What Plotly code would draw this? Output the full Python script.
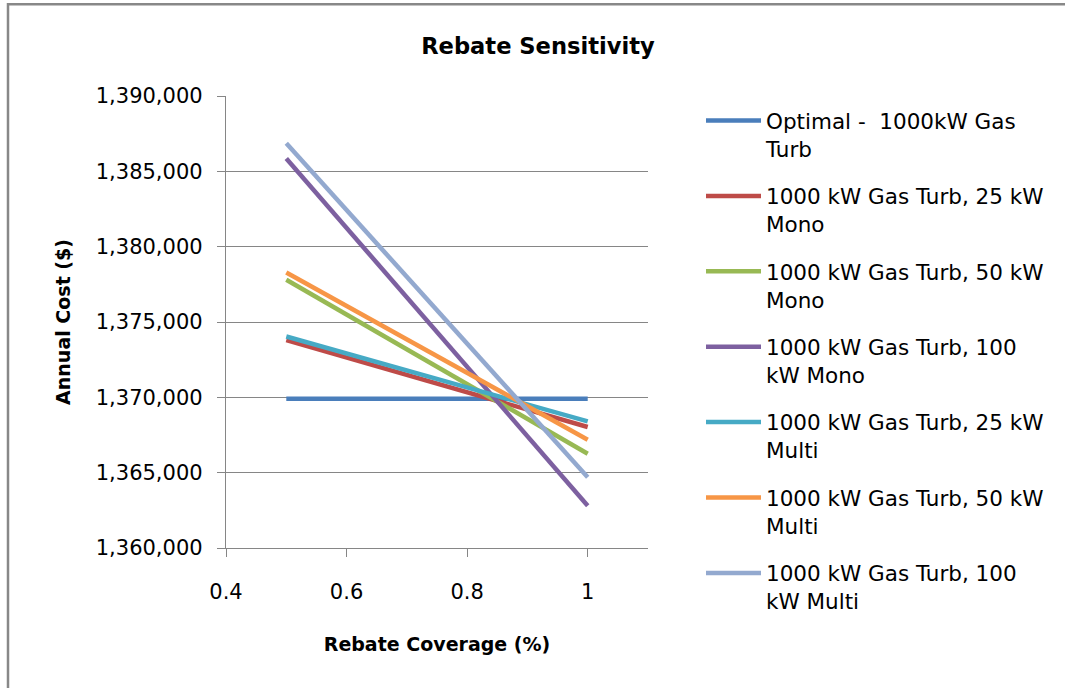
import plotly.graph_objects as go

# ---- data ----
coverage = [0.5, 1.0]
series_names = [
    "Optimal -  1000kW Gas<br>Turb",
    "1000 kW Gas Turb, 25 kW<br>Mono",
    "1000 kW Gas Turb, 50 kW<br>Mono",
    "1000 kW Gas Turb, 100<br>kW Mono",
    "1000 kW Gas Turb, 25 kW<br>Multi",
    "1000 kW Gas Turb, 50 kW<br>Multi",
    "1000 kW Gas Turb, 100<br>kW Multi",
]
optimal_gas_turb = [1369900, 1369900]
gas_turb_25_mono = [1373800, 1368030]
gas_turb_50_mono = [1377800, 1366260]
gas_turb_100_mono = [1385850, 1362810]
gas_turb_25_multi = [1374040, 1368400]
gas_turb_50_multi = [1378290, 1367190]
gas_turb_100_multi = [1386870, 1364690]
series_values = [optimal_gas_turb, gas_turb_25_mono, gas_turb_50_mono,
                 gas_turb_100_mono, gas_turb_25_multi, gas_turb_50_multi,
                 gas_turb_100_multi]
colors = ["#4A7EBB", "#BE4B48", "#98B954", "#7D60A0", "#46AAC5", "#F79646", "#93A9CF"]

FONT = "DejaVu Sans"
W, H = 1065, 688
L, R, T, B = 226, 648, 96, 548

fig = go.Figure()
for i, (name, vals) in enumerate(zip(series_names, series_values)):
    fig.add_trace(go.Scatter(
        x=coverage, y=vals, mode="lines", name=name,
        legendgroup=f"g{i}",
        line=dict(color=colors[i], width=4.5),
    ))

pw, ph = R - L, B - T
def px_x(p):
    return (p - L) / pw
def px_y(p):
    return (B - p) / ph

fig.update_layout(
    width=W, height=H,
    margin=dict(l=L, r=W - R, t=T, b=H - B, autoexpand=False),
    paper_bgcolor="white", plot_bgcolor="white",
    font=dict(family=FONT, size=21, color="#000000"),
    title=dict(text="<b>Rebate Sensitivity</b>", font=dict(family=FONT, size=22.6),
               x=538 / W, xref="container", xanchor="center",
               y=1 - 46 / H, yref="container", yanchor="middle"),
    xaxis=dict(range=[0.4, 1.1], dtick=0.2, tick0=0.4, showgrid=False,
               showline=True, linecolor="#868686", linewidth=1.3,
               ticks="outside", ticklen=8, tickcolor="#868686", tickwidth=1.3,
               ticklabelstandoff=17, zeroline=False,
               tickfont=dict(family=FONT, size=21),
               title=dict(text="<b>Rebate Coverage (%)</b>", standoff=34,
                          font=dict(family=FONT, size=19))),
    yaxis=dict(range=[1360000, 1390000], dtick=5000, tickformat=",d",
               showgrid=True, gridcolor="#868686", gridwidth=1.3,
               showline=True, linecolor="#868686", linewidth=1.3,
               ticks="outside", ticklen=8, tickcolor="#868686", tickwidth=1.3,
               ticklabelstandoff=10, zeroline=False,
               tickfont=dict(family=FONT, size=21),
               title=dict(text="<b>Annual Cost ($)</b>", standoff=20,
                          font=dict(family=FONT, size=19))),
    legend=dict(x=px_x(701), xanchor="left", y=px_y(100), yanchor="top",
                valign="top", tracegroupgap=16.5, itemwidth=55, maxheight=640,
                font=dict(family=FONT, size=21.5), bgcolor="rgba(0,0,0,0)"),
    shapes=[dict(type="rect", xref="paper", yref="paper",
                 x0=px_x(8), x1=px_x(1200), y0=px_y(800), y1=px_y(4.3),
                 line=dict(color="#888888", width=2.5), layer="below")],
)

fig.write_html("out.html", config={"displayModeBar": False},
               post_script="document.body.style.margin='0';")
